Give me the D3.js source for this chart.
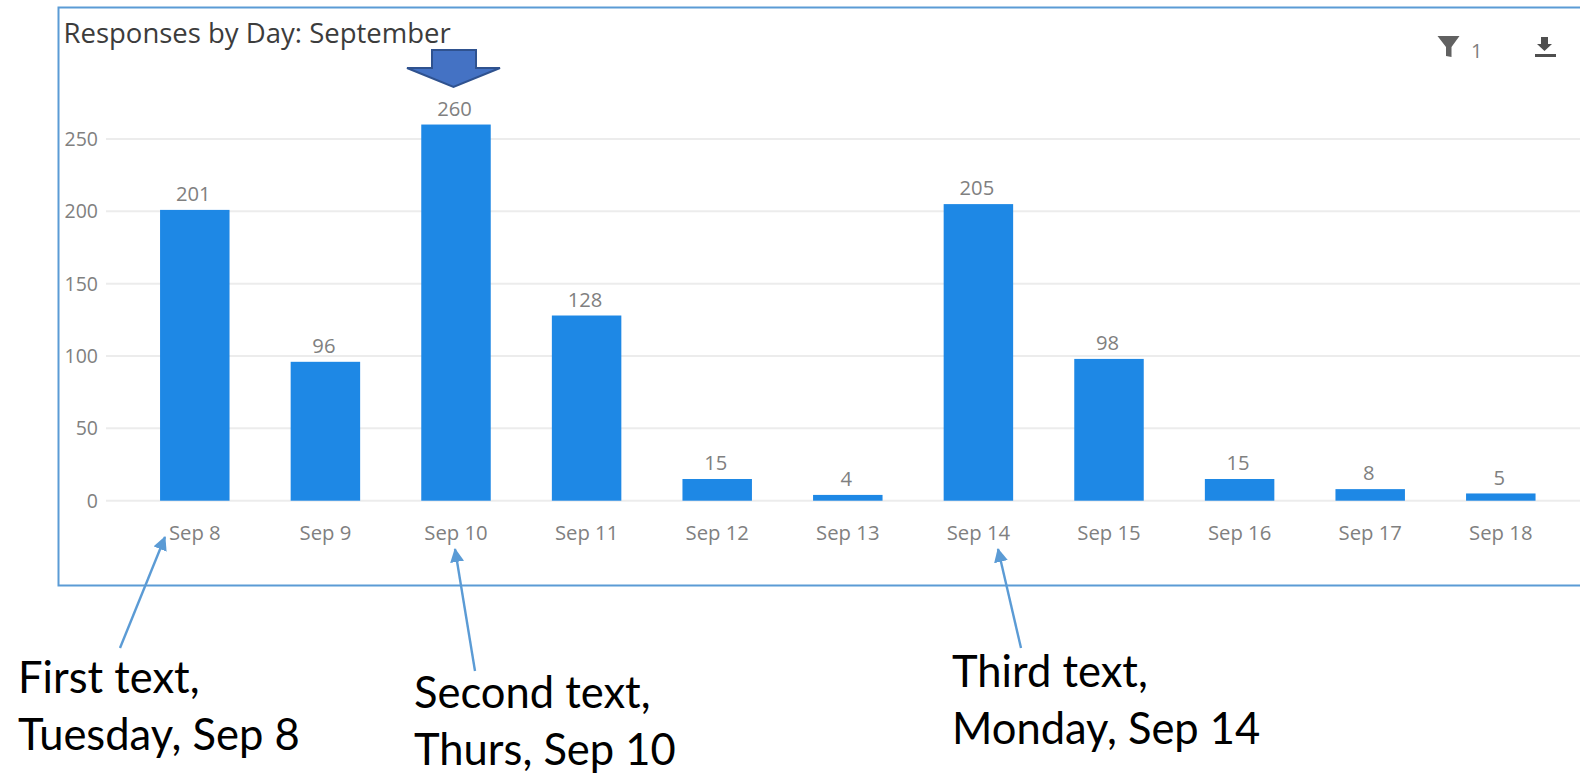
<!DOCTYPE html>
<html>
<head>
<meta charset="utf-8">
<script src="https://cdn.jsdelivr.net/npm/d3@7"></script>
<style>
html,body{margin:0;padding:0;background:#fff;overflow:hidden}
svg{display:block}
</style>
</head>
<body>
<svg id="chart" width="1580" height="773"></svg>
<script>
const days = ["Sep 8","Sep 9","Sep 10","Sep 11","Sep 12","Sep 13","Sep 14","Sep 15","Sep 16","Sep 17","Sep 18"];
const responses = [201,96,260,128,15,4,205,98,15,8,5];
const yTicks = [0,50,100,150,200,250];
const titleText = "Responses by Day: September";
const callouts = [
  {lines:["First text,","Tuesday, Sep 8"], day:"Sep 8", tx:18, ty:692.5, from:[120,648], to:[165,537]},
  {lines:["Second text,","Thurs, Sep 10"], day:"Sep 10", tx:414, ty:708, from:[475,671], to:[455,549]},
  {lines:["Third text,","Monday, Sep 14"], day:"Sep 14", tx:952, ty:686.5, from:[1021,648], to:[998,549]}
];

const svg = d3.select("#chart");
const chartFont = "'Open Sans', sans-serif";
const noteFont = "Lato, sans-serif";

const x = d3.scaleBand().domain(days).range([129.5,1566.1]).paddingInner(0.468).paddingOuter(0.234);
const y = d3.scaleLinear().domain([0,250]).range([500.7,139]);

// Panel outline, open on the right where the widget runs off the page
svg.append("path")
  .attr("d","M1580,7.5H58.5V585.5H1580")
  .attr("fill","none").attr("stroke","#5b9bd5").attr("stroke-width",2);

svg.append("text").attr("x",63.5).attr("y",42.5)
  .attr("font-family",chartFont).attr("font-size",27.5).attr("fill","#3c3c3c")
  .text(titleText);

// Horizontal grid and value axis
const yAxis = d3.axisLeft(y).tickValues(yTicks).tickSize(0).tickPadding(0);
const yG = svg.append("g").attr("transform","translate(98,0)").call(yAxis);
yG.select(".domain").remove();
yG.selectAll("text").attr("font-family",chartFont).attr("font-size",19.5).attr("fill","#808080").attr("dy","0.33em");

svg.append("g").selectAll("line").data(yTicks).join("line")
  .attr("x1",106).attr("x2",1580)
  .attr("y1",d=>y(d)).attr("y2",d=>y(d))
  .attr("stroke","#ececec").attr("stroke-width",2);

// Bars and value labels
svg.append("g").selectAll("rect").data(responses).join("rect")
  .attr("x",(d,i)=>x(days[i])).attr("width",x.bandwidth())
  .attr("y",d=>y(d)).attr("height",d=>y(0)-y(d))
  .attr("fill","#1e88e5");

svg.append("g").selectAll("text").data(responses).join("text")
  .attr("x",(d,i)=>x(days[i])+x.bandwidth()/2-1.5).attr("y",d=>y(d)-8.8)
  .attr("text-anchor","middle")
  .attr("font-family",chartFont).attr("font-size",20.2).attr("fill","#808080")
  .text(d=>d);

// Category axis
const xAxis = d3.axisBottom(x).tickSize(0).tickPadding(0);
const xG = svg.append("g").attr("transform","translate(0,525.5)").call(xAxis);
xG.select(".domain").remove();
xG.selectAll("text").attr("font-family",chartFont).attr("font-size",20.3).attr("fill","#808080").attr("dy","0.71em");

// Block arrow above the tallest bar
svg.append("path")
  .attr("d","M432,50H476V68H500L453.5,87L407,68H432Z")
  .attr("fill","#4472c4").attr("stroke","#2f528f").attr("stroke-width",2);

// Toolbar glyphs
svg.append("path")
  .attr("d","M1437.5,36H1459.5L1451.5,47V57L1446,56V47Z").attr("fill","#616161");
svg.append("text").attr("x",1471).attr("y",58)
  .attr("font-family",chartFont).attr("font-size",20).attr("fill","#808080").text("1");
svg.append("path")
  .attr("d","M1541,37H1548V44H1552L1544.5,51L1537,44H1541ZM1535,54H1556V57H1535Z").attr("fill","#4f4f4f");

// Callouts
const defs = svg.append("defs");
defs.append("marker").attr("id","head").attr("viewBox","0 0 14 14")
  .attr("refX",13).attr("refY",7).attr("markerWidth",14).attr("markerHeight",14)
  .attr("markerUnits","userSpaceOnUse").attr("orient","auto")
  .append("path").attr("d","M0,0L14,7L0,14Z").attr("fill","#5b9bd5");

const note = svg.append("g").selectAll("g").data(callouts).join("g");
note.append("line")
  .attr("x1",d=>d.from[0]).attr("y1",d=>d.from[1])
  .attr("x2",d=>d.to[0]).attr("y2",d=>d.to[1])
  .attr("stroke","#5b9bd5").attr("stroke-width",2.4).attr("marker-end","url(#head)");
note.each(function(d){
  const t = d3.select(this).append("text")
    .attr("font-family",noteFont).attr("font-size",43.5).attr("fill","#000");
  d.lines.forEach((s,i)=>t.append("tspan").attr("x",d.tx).attr("y",d.ty+i*57).text(s));
});
</script>
</body>
</html>
